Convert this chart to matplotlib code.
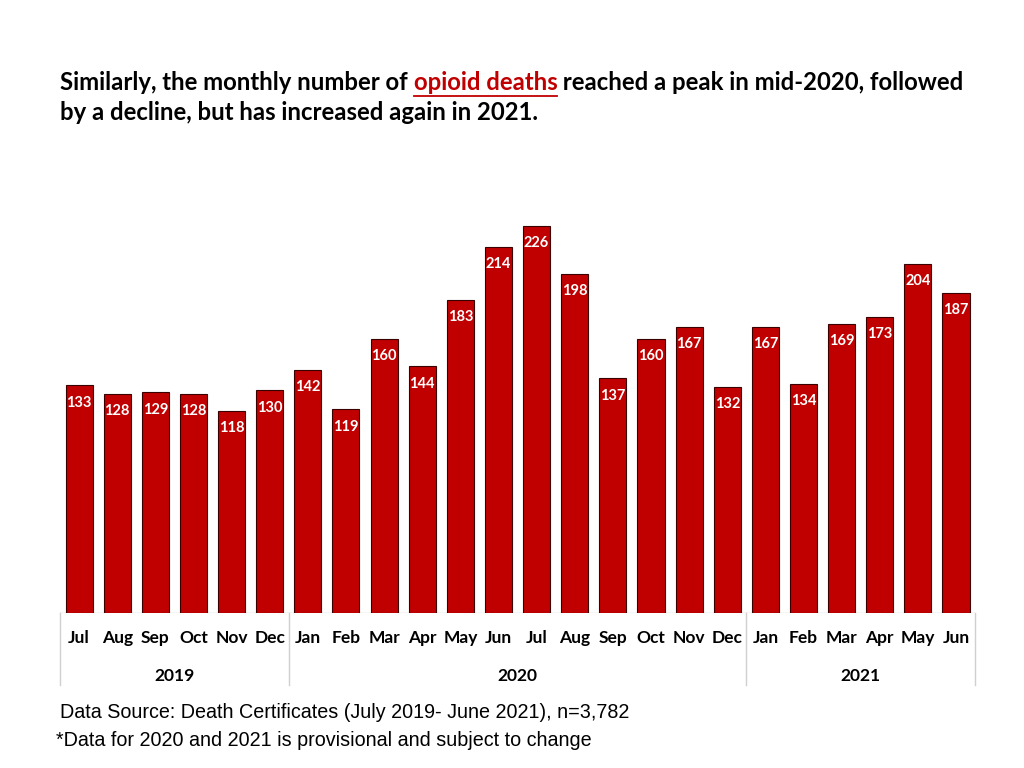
import numpy as np
import matplotlib
matplotlib.use("Agg")
from matplotlib import pyplot as plt

months = ["Jul", "Aug", "Sep", "Oct", "Nov", "Dec",
          "Jan", "Feb", "Mar", "Apr", "May", "Jun", "Jul", "Aug", "Sep", "Oct", "Nov", "Dec",
          "Jan", "Feb", "Mar", "Apr", "May", "Jun"]
deaths = [133, 128, 129, 128, 118, 130,
          142, 119, 160, 144, 183, 214, 226, 198, 137, 160, 167, 132,
          167, 134, 169, 173, 204, 187]
years = ["2019", "2020", "2021"]
year_counts = [6, 12, 6]

RED = "#c00000"
BOLD = "Lato"

fig = plt.figure(figsize=(10.24, 7.68), dpi=100)
ax = fig.add_axes([0.0586, 0.2018, 0.8936, 0.535])

x = np.arange(len(deaths))
bars = ax.bar(x, deaths, width=0.71, color=RED, edgecolor="#3a0000", linewidth=0.8, zorder=2)
for xi, v in zip(x, deaths):
    ax.annotate(str(v), (xi, v), xytext=(0, -12.5), textcoords="offset points",
                ha="center", va="center", color="white", fontsize=10.5,
                fontweight="bold", family=BOLD, zorder=3)

ax.set_xlim(-0.5, len(deaths) - 0.5)
ax.set_ylim(0, 240)
ax.set_xticks([])
ax.set_yticks([])
for s in ax.spines.values():
    s.set_visible(False)
ax.axhline(0, color="#d0d0d0", lw=1, zorder=1)

# category table under the axis
trans = ax.get_xaxis_transform()
for xi, m in zip(x, months):
    ax.text(xi, -0.062, m, transform=trans, ha="center", va="center",
            fontsize=12.5, fontweight="bold", family=BOLD)
start = 0
bounds = [-0.5]
for yr, n in zip(years, year_counts):
    ax.text(start + n / 2 - 0.5, -0.154, yr, transform=trans, ha="center", va="center",
            fontsize=12.5, fontweight="bold", family=BOLD)
    start += n
    bounds.append(start - 0.5)
for b in bounds:
    ax.plot([b, b], [0, -0.175], transform=trans, color="#d0d0d0", lw=1, clip_on=False)

# title with red underlined words
parts = [("Similarly, the monthly number of ", "black", False),
         ("opioid deaths", RED, True),
         (" reached a peak in mid-2020, followed", "black", False)]
fig.canvas.draw()
r = fig.canvas.get_renderer()
xpos = 60 / 1024
ypos = 1 - 83 / 768
for txt, col, ul in parts:
    t = fig.text(xpos, ypos, txt, fontsize=17.2, fontweight="bold", family=BOLD,
                 color=col, va="center", ha="left")
    bb = t.get_window_extent(renderer=r)
    w = bb.width / fig.bbox.width
    if ul:
        fig.add_artist(plt.Line2D([xpos, xpos + w], [ypos - 13 / 768, ypos - 13 / 768],
                                  color=col, lw=1.3, transform=fig.transFigure))
    xpos += w
fig.text(60 / 1024, 1 - 113 / 768, "by a decline, but has increased again in 2021.",
         fontsize=17.2, fontweight="bold", family=BOLD, va="center", ha="left")

fig.text(60 / 1024, 1 - 712 / 768, "Data Source: Death Certificates (July 2019- June 2021), n=3,782",
         fontsize=14.2, family="Liberation Sans", va="center", ha="left")
fig.text(56 / 1024, 1 - 741 / 768, "*Data for 2020 and 2021 is provisional and subject to change",
         fontsize=14.2, family="Liberation Sans", va="center", ha="left")

fig.savefig("out.png", dpi=100)
